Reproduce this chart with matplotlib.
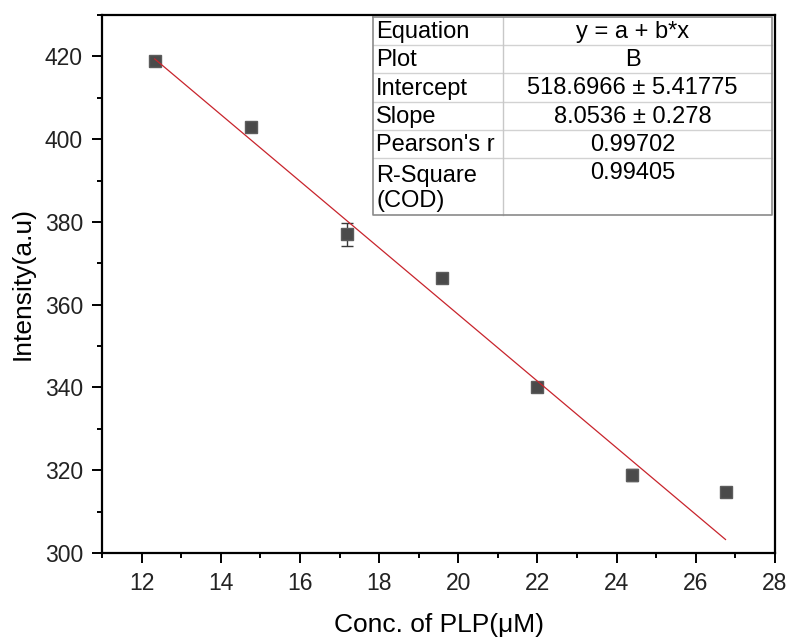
import matplotlib
matplotlib.use("Agg")
import matplotlib.pyplot as plt
from matplotlib.ticker import MultipleLocator
from matplotlib.lines import Line2D
from matplotlib.patches import Rectangle
import numpy as np

plt.rcParams['font.family'] = ['Liberation Sans', 'DejaVu Sans']

# Data
conc = [12.33, 14.76, 17.19, 19.6, 22.0, 24.4, 26.75]
intensity = [419.0, 402.9, 377.0, 366.5, 340.2, 318.9, 314.8]
intensity_err = [0.5, 0.5, 2.7, 0.5, 0.5, 1.5, 0.5]

fit_intercept = 518.6966
fit_slope = -8.0536

table_labels = ["Equation", "Plot", "Intercept", "Slope", "Pearson's r", "R-Square\n(COD)"]
table_values = ["y = a + b*x", "B", "518.6966 \u00b1 5.41775", "8.0536 \u00b1 0.278", "0.99702", "0.99405"]

W, H = 789, 639
fig = plt.figure(figsize=(W / 100, H / 100), dpi=100)
ax = fig.add_axes([102 / W, 1 - 553 / H, (775 - 102) / W, (553 - 15) / H])

ax.errorbar(conc, intensity, yerr=intensity_err, fmt='s', color='#4a4a4a',
            mec='#5c5c5c', ms=9, ecolor='#3a3a3a', elinewidth=1.0,
            capsize=4.5, capthick=1.0, zorder=3)

xf = np.array([conc[0], conc[-1]])
ax.plot(xf, fit_intercept + fit_slope * xf, color='#c8242c', lw=0.9, zorder=4)

ax.set_xlim(11, 28)
ax.set_ylim(300, 430)
ax.xaxis.set_major_locator(MultipleLocator(2))
ax.xaxis.set_minor_locator(MultipleLocator(1))
ax.yaxis.set_major_locator(MultipleLocator(20))
ax.yaxis.set_minor_locator(MultipleLocator(10))
ax.tick_params(axis='both', which='major', direction='out', length=7.2, width=1.4,
               labelsize=16.5, colors='black', labelcolor='#222222', pad=6.5)
ax.tick_params(axis='both', which='minor', direction='out', length=3.6, width=1.4)
ax.tick_params(top=False, right=False, which='both')
for sp in ax.spines.values():
    sp.set_linewidth(1.6)

ax.set_xlabel("Conc. of PLP(\u03bcM)", fontsize=19, labelpad=13)
ax.set_ylabel("Intensity(a.u)", fontsize=19, labelpad=7)

# Table (drawn in figure pixel coordinates)
def fx(px):
    return px / W

def fy(py):
    return 1 - py / H

tl, tm, tr = 373, 503, 772
row_edges = [17, 45, 73, 102, 130, 158, 215]
fig.patches.append(Rectangle((fx(tl), fy(row_edges[-1])), fx(tr) - fx(tl),
                             fy(row_edges[0]) - fy(row_edges[-1]),
                             transform=fig.transFigure, facecolor='white',
                             edgecolor='none', zorder=5))
for yy in row_edges[1:-1]:
    fig.lines.append(Line2D([fx(tl), fx(tr)], [fy(yy), fy(yy)], transform=fig.transFigure,
                            color='#d2d2d2', lw=1.0, zorder=6))
fig.lines.append(Line2D([fx(tm), fx(tm)], [fy(row_edges[0]), fy(row_edges[-1])],
                        transform=fig.transFigure, color='#c8c8c8', lw=1.0, zorder=6))
fig.lines.append(Line2D([fx(tl), fx(tr), fx(tr), fx(tl), fx(tl)],
                        [fy(row_edges[0]), fy(row_edges[0]), fy(row_edges[-1]),
                         fy(row_edges[-1]), fy(row_edges[0])],
                        transform=fig.transFigure, color='#8a8a8a', lw=1.2, zorder=7))
for i, (lab, val) in enumerate(zip(table_labels, table_values)):
    top = row_edges[i]
    bot = row_edges[i + 1]
    if i < len(table_labels) - 1:
        yc = (top + bot) / 2 + 1
        fig.text(fx(tl + 3), fy(yc), lab, fontsize=17, ha='left', va='center', zorder=8)
        fig.text(fx((tm + tr) / 2 - 5), fy(yc), val, fontsize=17, ha='center', va='center', zorder=8)
    else:
        fig.text(fx(tl + 3), fy((top + bot) / 2 + 2), lab, fontsize=17, ha='left', va='center',
                 linespacing=1.2, zorder=8)
        fig.text(fx((tm + tr) / 2 - 5), fy(top + 15), val, fontsize=17, ha='center', va='center', zorder=8)

fig.savefig("out.png", dpi=100)
